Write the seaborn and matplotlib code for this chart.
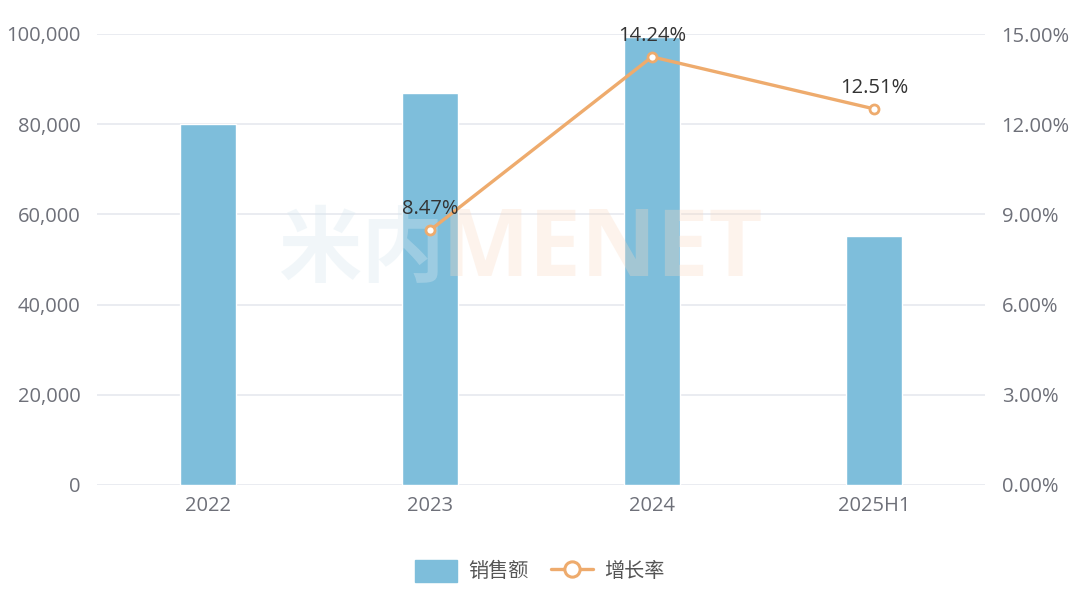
import matplotlib
matplotlib.use("Agg")
import matplotlib.pyplot as plt
import seaborn as sns
import pandas as pd
import numpy as np
from matplotlib.lines import Line2D
from matplotlib.patches import Patch

categories = ["2022", "2023", "2024", "2025H1"]
sales = [80000, 87000, 99300, 55200]
growth_cats = ["2023", "2024", "2025H1"]
growth = [8.47, 14.24, 12.51]
left_ticks = [0, 20000, 40000, 60000, 80000, 100000]
right_ticks = [0, 3, 6, 9, 12, 15]

sns.set_theme(style="white")
plt.rcParams['font.family'] = ['Open Sans', 'Noto Sans CJK SC', 'DejaVu Sans']

BAR = "#7EBEDB"
LINE = "#EEAB6D"
TICK = "#6E7079"
GRID = "#E6E9EF"
FS = 14.5

fig = plt.figure(figsize=(10.8, 5.9), dpi=100)
ax = fig.add_axes([97/1080, 105/590, 888/1080, 451/590])

df = pd.DataFrame({"cat": categories, "sales": sales})
sns.barplot(data=df, x="cat", y="sales", color=BAR, width=0.25, saturation=1,
            ax=ax, zorder=2)
ax.set_xlim(-0.5, len(categories) - 0.5)
ax.set_ylim(0, 100000)
ax.set_yticks(left_ticks)
ax.set_yticklabels([f"{v:,}" for v in left_ticks])
ax.set_xlabel("")
ax.set_ylabel("")
for s in ax.spines.values():
    s.set_visible(False)
ax.grid(axis="y", color=GRID, linewidth=1.2, zorder=0)
ax.set_axisbelow(True)
ax.tick_params(axis="both", length=0, labelsize=FS, labelcolor=TICK, pad=12)
ax.tick_params(axis="x", pad=8)

ax2 = ax.twinx()
xpos = [categories.index(c) for c in growth_cats]
gdf = pd.DataFrame({"x": xpos, "g": growth})
sns.lineplot(data=gdf, x="x", y="g", color=LINE, linewidth=2.4, marker="o",
             markersize=6.5, markerfacecolor="white", markeredgecolor=LINE,
             markeredgewidth=2, ax=ax2, zorder=3)
ax2.set_ylim(0, 15)
ax2.set_yticks(right_ticks)
ax2.set_yticklabels([f"{v:.2f}%" for v in right_ticks])
ax2.set_xlim(-0.5, len(categories) - 0.5)
ax2.set_ylabel("")
ax2.set_xlabel("")
for s in ax2.spines.values():
    s.set_visible(False)
ax2.tick_params(axis="y", length=0, labelsize=FS, labelcolor=TICK, pad=12)
ax2.grid(False)

# faint watermark (behind labels)
ax2.text(278/1080, 1 - 252/590, "米内", transform=fig.transFigure, fontsize=60,
         fontweight="bold", color="#D8E8F0", alpha=0.35, ha="left", va="center",
         zorder=1, family=['Noto Sans CJK SC'])
ax2.text(442/1080, 1 - 252/590, "MENET", transform=fig.transFigure, fontsize=67,
         fontweight="bold", color="#FAD9C2", alpha=0.3, ha="left", va="center",
         zorder=1)

for x, g in zip(xpos, growth):
    ax2.annotate(f"{g:.2f}%", (x, g), xytext=(0, 8), textcoords="offset points",
                 ha="center", va="bottom", fontsize=FS, color="#333333", zorder=5)

handles = [Patch(facecolor=BAR, edgecolor=BAR, label="销售额"),
           Line2D([0], [0], color=LINE, linewidth=2.4, marker="o", markersize=11,
                  markerfacecolor="white", markeredgecolor=LINE, markeredgewidth=2.2,
                  label="增长率")]
leg = fig.legend(handles=handles, loc="center", bbox_to_anchor=(0.5, 0.032),
                 ncol=2, frameon=False, fontsize=FS, handlelength=2.1,
                 handleheight=1.3, columnspacing=1.1, handletextpad=0.55)
for t in leg.get_texts():
    t.set_color("#555555")
    t.set_family(['Noto Sans CJK SC', 'DejaVu Sans'])

fig.savefig("out.png", dpi=100)
